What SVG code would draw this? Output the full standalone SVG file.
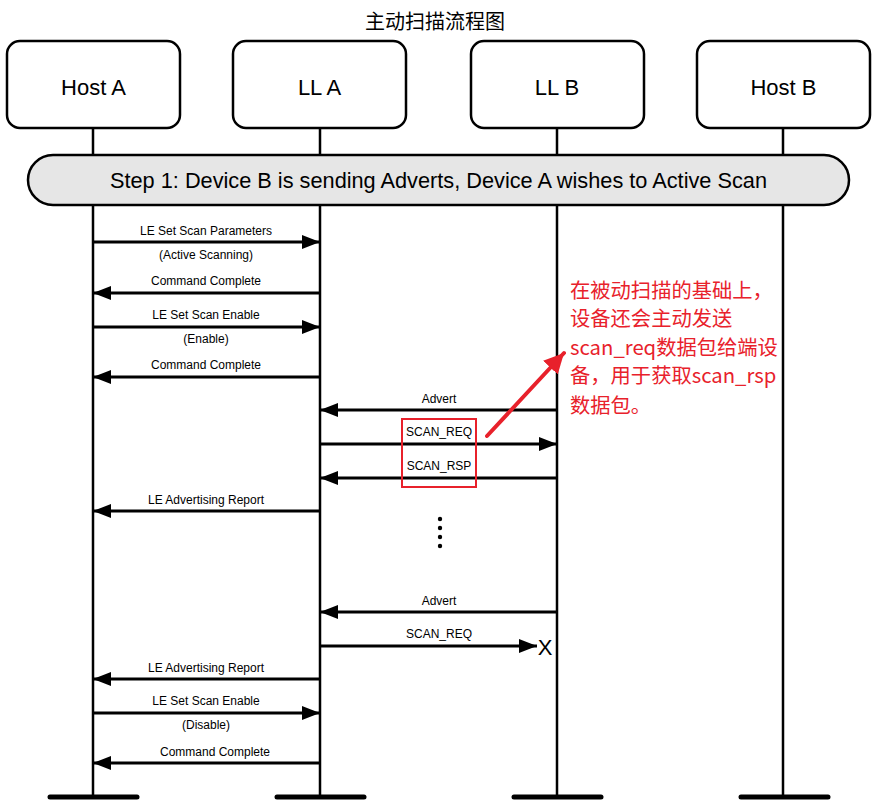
<svg xmlns="http://www.w3.org/2000/svg" width="879" height="804" viewBox="0 0 879 804">
<style>
.box{fill:#fff;stroke:#000;stroke-width:2.5}
.nt{font-family:"Liberation Sans",Arial,sans-serif;font-size:22px;text-anchor:middle;fill:#000}
.life{stroke:#000;stroke-width:2.5;fill:none}
.foot{stroke:#000;stroke-width:5;stroke-linecap:round}
.msg{stroke:#000;stroke-width:3;fill:none}
.lb{font-family:"Liberation Sans",Arial,sans-serif;font-size:12px;text-anchor:middle;fill:#000}
.red{font-family:"Noto Sans CJK SC","Microsoft YaHei",sans-serif;font-size:20.3px;fill:#e8212b}
</style>
<defs>
<marker id="ah" markerUnits="userSpaceOnUse" markerWidth="20" markerHeight="14" refX="18" refY="7" orient="auto">
<path d="M0,0 L18,7 L0,14 Z" fill="#000"/>
</marker>
<marker id="rh" markerUnits="userSpaceOnUse" markerWidth="22" markerHeight="20" refX="20" refY="10" orient="auto">
<path d="M0,0 L20,10 L0,20 Z" fill="#e8212b"/>
</marker>
</defs>
<rect width="879" height="804" fill="#fff"/>
<text x="435" y="29" font-family="'Noto Sans CJK SC',sans-serif" font-size="20" text-anchor="middle" fill="#000">主动扫描流程图</text>

<g id="lifelines">
<line class="life" x1="93" y1="128" x2="93" y2="797"/>
<line class="life" x1="320" y1="128" x2="320" y2="797"/>
<line class="life" x1="557" y1="128" x2="557" y2="797"/>
<line class="life" x1="783" y1="128" x2="783" y2="797"/>
<line class="foot" x1="50" y1="797" x2="137" y2="797"/>
<line class="foot" x1="277" y1="797" x2="364" y2="797"/>
<line class="foot" x1="514" y1="797" x2="601" y2="797"/>
<line class="foot" x1="741" y1="797" x2="828" y2="797"/>
</g>

<g id="hostA"><rect class="box" x="7" y="41" width="173" height="87" rx="13"/><text class="nt" x="93.5" y="95">Host A</text></g>
<g id="llA"><rect class="box" x="233" y="41" width="173" height="87" rx="13"/><text class="nt" x="319.5" y="95">LL A</text></g>
<g id="llB"><rect class="box" x="471" y="41" width="173" height="87" rx="13"/><text class="nt" x="557" y="95">LL B</text></g>
<g id="hostB"><rect class="box" x="697" y="41" width="173" height="87" rx="13"/><text class="nt" x="783.5" y="95">Host B</text></g>

<g id="step1"><rect x="28" y="155" width="821" height="50" rx="25" fill="#e6e6e6" stroke="#000" stroke-width="2.5"/>
<text x="438.5" y="188" font-family="'Liberation Sans',Arial,sans-serif" font-size="21.5" text-anchor="middle" fill="#000" textLength="657" lengthAdjust="spacingAndGlyphs">Step 1: Device B is sending Adverts, Device A wishes to Active Scan</text></g>

<g id="connectors">
<line class="msg" x1="93" y1="242" x2="320" y2="242" marker-end="url(#ah)"/>
<text class="lb" x="206" y="235">LE Set Scan Parameters</text>
<text class="lb" x="206" y="259">(Active Scanning)</text>
<line class="msg" x1="320" y1="293" x2="93" y2="293" marker-end="url(#ah)"/>
<text class="lb" x="206" y="285">Command Complete</text>
<line class="msg" x1="93" y1="327" x2="320" y2="327" marker-end="url(#ah)"/>
<text class="lb" x="206" y="319">LE Set Scan Enable</text>
<text class="lb" x="206" y="343">(Enable)</text>
<line class="msg" x1="320" y1="377" x2="93" y2="377" marker-end="url(#ah)"/>
<text class="lb" x="206" y="369">Command Complete</text>
<line class="msg" x1="557" y1="410" x2="320" y2="410" marker-end="url(#ah)"/>
<text class="lb" x="439" y="403">Advert</text>
<line class="msg" x1="320" y1="444" x2="557" y2="444" marker-end="url(#ah)"/>
<text class="lb" x="439" y="436">SCAN_REQ</text>
<line class="msg" x1="557" y1="478" x2="320" y2="478" marker-end="url(#ah)"/>
<text class="lb" x="439" y="470">SCAN_RSP</text>
<line class="msg" x1="320" y1="511" x2="93" y2="511" marker-end="url(#ah)"/>
<text class="lb" x="206" y="504">LE Advertising Report</text>
<circle cx="440" cy="519" r="2.2"/><circle cx="440" cy="528" r="2.2"/><circle cx="440" cy="537" r="2.2"/><circle cx="440" cy="546" r="2.2"/>
<line class="msg" x1="557" y1="612" x2="320" y2="612" marker-end="url(#ah)"/>
<text class="lb" x="439" y="605">Advert</text>
<line class="msg" x1="320" y1="646" x2="537" y2="646" marker-end="url(#ah)"/>
<text class="lb" x="439" y="638">SCAN_REQ</text>
<text x="545" y="655" font-family="'Liberation Sans',Arial,sans-serif" font-size="22" text-anchor="middle">X</text>
<line class="msg" x1="320" y1="679" x2="93" y2="679" marker-end="url(#ah)"/>
<text class="lb" x="206" y="672">LE Advertising Report</text>
<line class="msg" x1="93" y1="713" x2="320" y2="713" marker-end="url(#ah)"/>
<text class="lb" x="206" y="705">LE Set Scan Enable</text>
<text class="lb" x="206" y="729">(Disable)</text>
<line class="msg" x1="320" y1="763" x2="93" y2="763" marker-end="url(#ah)"/>
<text class="lb" x="215" y="756">Command Complete</text>
</g>

<g id="annotation">
<rect x="402" y="419" width="74" height="68" fill="none" stroke="#e8212b" stroke-width="2"/>
<line x1="487" y1="436" x2="564" y2="353" stroke="#e8212b" stroke-width="4" stroke-linecap="round" marker-end="url(#rh)"/>
<text class="red" x="570" y="298">在被动扫描的基础上，</text>
<text class="red" x="570" y="326">设备还会主动发送</text>
<text class="red" x="570" y="355">scan_req数据包给端设</text>
<text class="red" x="570" y="383">备，用于获取scan_rsp</text>
<text class="red" x="570" y="413">数据包。</text>
</g>
</svg>
